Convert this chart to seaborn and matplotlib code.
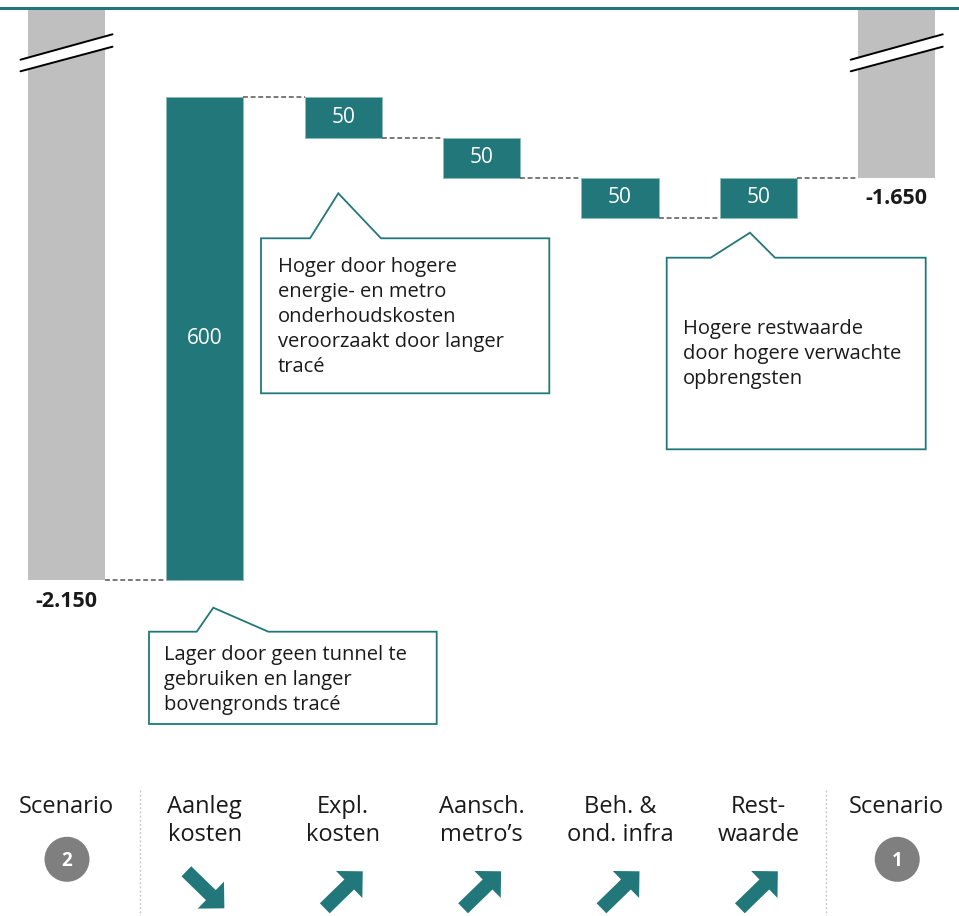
import numpy as np
import pandas as pd
import matplotlib
matplotlib.use("Agg")
import matplotlib.pyplot as plt
from matplotlib.patches import Polygon, Circle, FancyArrow
from matplotlib.lines import Line2D
from matplotlib.transforms import Affine2D, blended_transform_factory
import seaborn as sns

# ---------------------------------------------------------------- data
steps = ["Scenario 2", "Aanleg kosten", "Expl. kosten", "Aansch. metro's",
         "Beh. & ond. infra", "Restwaarde", "Scenario 1"]
tick_labels = ["Scenario", "Aanleg\nkosten", "Expl.\nkosten", "Aansch.\nmetro\u2019s",
               "Beh. &\nond. infra", "Rest-\nwaarde", "Scenario"]
start_value = -2150
end_value = -1650
deltas = [600, -50, -50, -50, 50]
value_labels = ["600", "50", "50", "50", "50"]
total_labels = ["-2.150", "-1.650"]
scenario_ids = ["2", "1"]
directions = ["down", "up", "up", "up", "up"]

note_aanleg = ["Lager door geen tunnel te", "gebruiken en langer", "bovengronds trac\u00e9"]
note_expl = ["Hoger door hogere", "energie- en metro", "onderhoudskosten",
             "veroorzaakt door langer", "trac\u00e9"]
note_rest = ["Hogere restwaarde", "door hogere verwachte", "opbrengsten"]

# ---------------------------------------------------------------- style
TEAL = "#22777a"
GREY = "#bfbfbf"
DARK = "#1a1a1a"
sns.set_theme(style="white")
plt.rcParams["font.family"] = ["Open Sans", "DejaVu Sans"]

W, H, DPI = 959, 916, 100
fig = plt.figure(figsize=(W / DPI, H / DPI), dpi=DPI)
fig.patch.set_facecolor("white")
ax = fig.add_axes([0, 0, 1, (H - 9) / H])
ax.set_facecolor("white")

# pixel coordinates measured from the top-left corner of the figure
PIX = Affine2D().scale(1 / W, -1 / H).translate(0, 1) + fig.transFigure
XPIX = blended_transform_factory(ax.transData, PIX)

# ---------------------------------------------------------------- waterfall
levels = np.concatenate([[start_value], start_value + np.cumsum(deltas)])
lows = np.minimum(levels[:-1], levels[1:])
heights = np.abs(deltas)
bar_w = 0.557

totals = pd.DataFrame({"step": [steps[0], steps[-1]], "value": [start_value, end_value]})
floats = pd.DataFrame({"step": steps[1:-1], "height": heights, "base": lows})

sns.barplot(data=totals, x="step", y="value", order=steps, color=GREY,
            saturation=1, width=bar_w, errorbar=None, linewidth=0, ax=ax)
sns.barplot(data=floats, x="step", y="height", order=steps, color=TEAL,
            saturation=1, width=bar_w, errorbar=None, bottom=floats["base"].to_numpy(),
            edgecolor="#8fbcbb", linewidth=0.6, ax=ax)

ax.set_xlim(-0.4806, 6.45)
ax.set_ylim(-2568, -1440)
ax.axis("off")

# dashed connectors between consecutive bars
all_levels = list(levels) + [end_value]
for i in range(len(steps) - 1):
    ax.plot([i + bar_w / 2, i + 1 - bar_w / 2], [all_levels[i], all_levels[i]],
            color="#555555", lw=1.1, ls=(0, (3.2, 1.8)), zorder=1)

# values inside the floating bars
for i, (lo, h, lab) in enumerate(zip(lows, heights, value_labels), start=1):
    ax.text(i, lo + h / 2, lab, color="white", fontsize=15, ha="center", va="center")

# totals under the scenario bars
ax.text(0, start_value - 27, total_labels[0], fontsize=15.5, fontweight="bold",
        color=DARK, ha="center", va="center")
ax.text(6, end_value - 26, total_labels[1], fontsize=15.5, fontweight="bold",
        color=DARK, ha="center", va="center")

# axis break marks on the truncated scenario bars
for i in (0, len(steps) - 1):
    cx = ax.transData.transform((i, 0))[0]
    xl, xr = cx - 46, cx + 46
    ax.add_patch(Polygon([(xl, 59.7), (xr, 34.3), (xr, 46.7), (xl, 71.3)],
                         closed=True, facecolor="white", edgecolor="none",
                         transform=PIX, clip_on=False, zorder=4))
    for y0, y1 in ((59.7, 34.3), (71.3, 46.7)):
        ax.add_line(Line2D([xl, xr], [y0, y1], color="black", lw=1.4,
                           transform=PIX, clip_on=False, zorder=5))

# top rule
fig.add_artist(Line2D([0, W], [7.5, 7.5], color=TEAL, lw=2.2, transform=PIX))


# call-out boxes
def callout(left, top, right, bottom, notch_l, apex, notch_r, lines, tx, base0):
    pts = [(left, top), (notch_l, top), apex, (notch_r, top), (right, top),
           (right, bottom), (left, bottom)]
    ax.add_patch(Polygon(pts, closed=True, facecolor="white", edgecolor=TEAL,
                         lw=1.3, transform=PIX, clip_on=False, zorder=3))
    for k, line in enumerate(lines):
        ax.text(tx, base0 + 25 * k, line, transform=PIX, fontsize=14.5,
                color=DARK, ha="left", va="baseline", zorder=4)


callout(261, 238.3, 549.3, 393.3, 310, (338.3, 193.3), 381, note_expl, 277.7, 271.7)
callout(666.7, 257.7, 925.7, 449.3, 710.7, (750, 232.7), 775, note_rest, 682.7, 334.3)
callout(149, 631.7, 436.7, 724, 196.7, (213.3, 607.7), 268.3, note_aanleg, 164.3, 660)

# category labels below the chart
for i, lab in enumerate(tick_labels):
    ax.text(i, 795, lab, transform=XPIX, fontsize=17, color=DARK,
            ha="center", va="top", linespacing=1.2)

# scenario badges
for i, sid in zip((0, len(steps) - 1), scenario_ids):
    cx = ax.transData.transform((i, 0))[0] + 0.5
    ax.add_patch(Circle((cx, 859.3), 22.5, facecolor="#7f7f7f", edgecolor="none",
                        transform=PIX, clip_on=False))
    ax.text(cx, 860.5, sid, transform=PIX, fontsize=13.5, fontweight="bold",
            color="white", ha="center", va="center")

# direction arrows
for i, d in enumerate(directions, start=1):
    cx = ax.transData.transform((i, 0))[0] + 0.5
    cy = 889.8
    if d == "down":
        x0, y0, dx, dy = cx - 19, cy - 18.5, 38, 37
    else:
        x0, y0, dx, dy = cx - 19, cy + 18.5, 38, -37
    ax.add_patch(FancyArrow(x0, y0, dx, dy, width=14, head_width=37.7,
                            head_length=18.9, length_includes_head=True,
                            color=TEAL, lw=0, transform=PIX, clip_on=False))

# dotted separators around the scenario columns
for xs in (139.5, 825.5):
    fig.add_artist(Line2D([xs, xs], [790, 916], color="#c8c8c8", lw=1,
                          ls=(0, (1.5, 1.5)), transform=PIX))

fig.savefig("out.png", dpi=DPI, facecolor="white")
